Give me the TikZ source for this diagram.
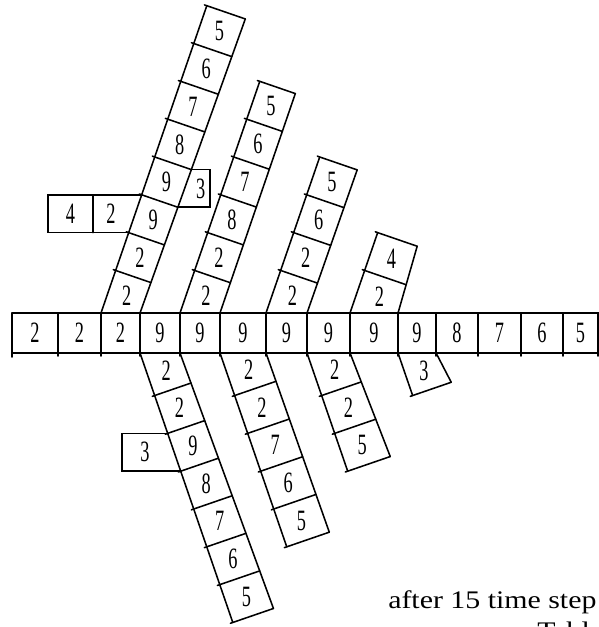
\documentclass[tikz,border=0pt]{standalone}
\usepackage{fontspec}
\usepackage{graphicx}
\setmainfont{Liberation Serif}
\usetikzlibrary{calc}
\tikzset{
  cell/.style={line width=1.1pt, line cap=round},
  digit/.style={inner sep=0pt, font=\fontsize{21}{21}\selectfont},
  caption/.style={inner sep=0pt, font=\fontsize{18}{18}\selectfont},
}
\newcommand{\dig}[1]{\scalebox{0.62}[1]{#1}}
% #1 placement, #2 name, #3 cells, #4 width at base, #5 width at end, #6 labels
\newcommand{\strip}[6]{
  \begin{scope}[#1]
    \pgfmathsetmacro{\tlen}{45+(#3-1)*40}
    \pgfmathsetmacro{\ybase}{0.344*#4}
    \draw[cell] (0,0) -- (0,\tlen);
    \draw[cell] (#4,\ybase) -- (#5,\tlen);
    \foreach \lab [count=\idx] in {#6} {
      \pgfmathsetmacro{\dpos}{45+(\idx-1)*40}
      \pgfmathsetmacro{\wid}{#4+(#5-#4)*(\dpos-\ybase)/(\tlen-\ybase)}
      \pgfmathsetmacro{\cpos}{25+(\idx-1)*40}
      \pgfmathsetmacro{\cwid}{#4+(#5-#4)*(\cpos-\ybase)/(\tlen-\ybase)}
      \coordinate (#2l\idx) at (0,\dpos);
      \coordinate (#2r\idx) at (\wid,\dpos);
      \draw[cell] (-2.5,\dpos) -- (#2r\idx);
      \node[digit] (#2\idx) at ({\cwid/2},\cpos) {\dig{\lab}};
    }
  \end{scope}
}

\begin{document}
\begin{tikzpicture}[x=0.025cm, y=0.025cm]
  \useasboundingbox (0,0) rectangle (599,627);
  \clip (0,0) rectangle (599,627);
  % main row
  \draw[cell] (12,314) -- (599,314);
  \draw[cell] (12,274) -- (598,274);
  \draw[cell] (12,314) -- (12,270);
  \foreach \xa/\xb/\lab [count=\i] in {12/58/2, 58/101/2, 101/140/2, 140/180/9,
      180/220/9, 220/266/9, 266/307/9, 307/350/9, 350/398/9, 398/436/9,
      436/478/8, 478/521/7, 521/563/6, 563/598/5} {
    \draw[cell] (\xb,314) -- (\xb,271);
    \node[digit] (m\i) at ({(\xa+\xb)/2},294) {\dig{\lab}};
  }
  % strips above
  \strip{shift={(101,314)}, rotate=-19}{a}{8}{36.9}{40.7}{2,2,9,9,8,7,6,5}
  \strip{shift={(180,314)}, rotate=-19}{b}{6}{37.8}{37.6}{2,2,8,7,6,5}
  \strip{shift={(266,314)}, rotate=-19}{c}{4}{38.8}{39.6}{2,2,6,5}
  \strip{shift={(350,314)}, rotate=-19}{d}{2}{45.4}{41.8}{2,4}
  % strips below
  \strip{shift={(140,274)}, rotate=19, yscale=-1}{e}{7}{37.8}{43}{2,2,9,8,7,6,5}
  \strip{shift={(220,274)}, rotate=19, yscale=-1}{f}{5}{43.5}{45}{2,2,7,6,5}
  \strip{shift={(307,274)}, rotate=19, yscale=-1}{g}{3}{40.7}{45}{2,2,5}
  \strip{shift={(398,274)}, rotate=19, yscale=-1}{h}{1}{36}{40.8}{3}
  % side boxes
  \coordinate (rowleft) at (48,0);
  \coordinate (rowmid) at (93,0);
  \coordinate (boxright) at (210,0);
  \coordinate (boxleft) at (122,0);
  \draw[cell] (al3) -- (al3 -| rowleft) -- (al2 -| rowleft) -- (al2);
  \draw[cell] (al3 -| rowmid) -- (al2 -| rowmid);
  \node[digit] (side4) at ($(al3 -| rowleft)!0.5!(al2 -| rowmid)$) {\dig{4}};
  \node[digit] (side2) at ($(al3 -| rowmid)!0.5!(al2)$) {\dig{2}};
  \draw[cell] (ar4) -- (ar4 -| boxright) -- (ar3 -| boxright) -- (ar3);
  \node[digit] (side3a) at ($(ar4)!0.5!(ar3 -| boxright)$) {\dig{3}};
  \draw[cell] (el2) -- (el2 -| boxleft) -- (el3 -| boxleft) -- (el3);
  \node[digit] (side3e) at ($(el2 -| boxleft)!0.5!(el3 -| el2)$) {\dig{3}};
  % caption
  \node[caption, anchor=base west] (cap) at (388,19) {\scalebox{1.18}[1]{after 15 time step}};
  \node[caption, anchor=base west] (tab) at (537,-12) {\scalebox{1.18}[1]{Table}};
\end{tikzpicture}
\end{document}
